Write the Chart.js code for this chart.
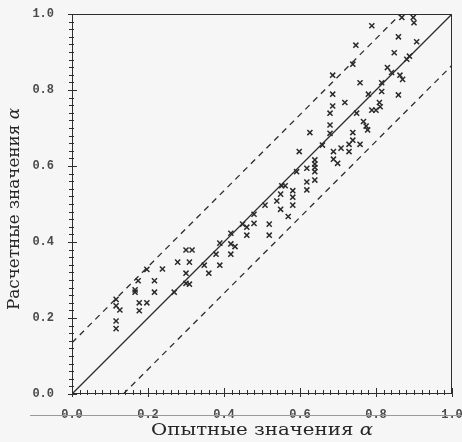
<!DOCTYPE html>
<html>
<head>
<meta charset="utf-8">
<script src="https://cdn.jsdelivr.net/npm/chart.js@4/dist/chart.umd.min.js"></script>
<style>
  html, body { margin: 0; padding: 0; background: #f6f6f6; }
  #wrap { width: 462px; height: 442px; }
</style>
</head>
<body>
<div id="wrap"><canvas id="chart" width="462" height="442"></canvas></div>
<script>
// опытные (x) и расчетные (y) значения alpha
const experimental = [
  0.116, 0.116, 0.177, 0.126, 0.116, 0.177, 0.197, 0.116, 0.166, 0.166,
  0.217, 0.269, 0.300, 0.309, 0.174, 0.217, 0.300, 0.360, 0.197, 0.238,
  0.348, 0.389, 0.278, 0.309, 0.379, 0.418, 0.300, 0.316, 0.429, 0.418,
  0.389, 0.460, 0.519, 0.418, 0.460, 0.449, 0.479, 0.519, 0.569, 0.479,
  0.549, 0.508, 0.581, 0.539, 0.581, 0.549, 0.581, 0.618, 0.552, 0.561,
  0.618, 0.639, 0.591, 0.639, 0.618, 0.639, 0.639, 0.639, 0.699, 0.688,
  0.598, 0.688, 0.729, 0.708, 0.659, 0.729, 0.758, 0.739, 0.679, 0.739,
  0.626, 0.778, 0.774, 0.679, 0.767, 0.679, 0.749, 0.789, 0.800, 0.686,
  0.811, 0.718, 0.809, 0.859, 0.686, 0.780, 0.815, 0.758, 0.815, 0.870,
  0.863, 0.686, 0.841, 0.830, 0.739, 0.881, 0.888, 0.848, 0.747, 0.907,
  0.859, 0.789, 0.900, 0.868, 0.898
];
const calculated = [
  0.172, 0.192, 0.219, 0.221, 0.232, 0.240, 0.240, 0.249, 0.268, 0.274,
  0.268, 0.268, 0.291, 0.289, 0.298, 0.298, 0.318, 0.318, 0.328, 0.329,
  0.339, 0.339, 0.347, 0.347, 0.368, 0.368, 0.379, 0.379, 0.388, 0.395,
  0.397, 0.418, 0.418, 0.423, 0.439, 0.447, 0.449, 0.447, 0.467, 0.473,
  0.486, 0.497, 0.497, 0.508, 0.518, 0.526, 0.535, 0.537, 0.548, 0.548,
  0.558, 0.563, 0.585, 0.585, 0.594, 0.596, 0.605, 0.616, 0.607, 0.618,
  0.638, 0.638, 0.638, 0.647, 0.655, 0.657, 0.657, 0.668, 0.686, 0.688,
  0.688, 0.695, 0.705, 0.708, 0.717, 0.739, 0.739, 0.747, 0.747, 0.758,
  0.756, 0.767, 0.767, 0.787, 0.789, 0.789, 0.796, 0.819, 0.819, 0.828,
  0.839, 0.839, 0.846, 0.859, 0.868, 0.881, 0.889, 0.898, 0.918, 0.927,
  0.940, 0.969, 0.977, 0.991, 0.991
];

// линия y = x и границы полосы
const diagX = [0, 1];
const diagY = [0, 1];
const upperX = [0, 0.865];
const upperY = [0.135, 1];
const lowerX = [0.135, 1];
const lowerY = [0, 0.865];

const tickValues = [0, 0.2, 0.4, 0.6, 0.8, 1.0];
const xTitle = "Опытные значения ";
const yTitle = "Расчетные значения ";
const alphaSym = "α";

function toPoints(xs, ys) {
  return xs.map((x, i) => ({ x: x, y: ys[i] }));
}

const INK = "#2e2e2e";

const background = {
  id: "background",
  beforeDraw(chart) {
    const ctx = chart.ctx;
    ctx.save();
    ctx.fillStyle = "#f6f6f6";
    ctx.fillRect(0, 0, chart.width, chart.height);
    ctx.restore();
  },
};

const frameAndTicks = {
  id: "frameAndTicks",
  afterDraw(chart) {
    const { ctx, chartArea: a, scales } = chart;
    ctx.save();
    ctx.strokeStyle = INK;
    ctx.lineWidth = 1;
    ctx.strokeRect(a.left + 0.5, a.top + 0.5, a.right - a.left - 1, a.bottom - a.top - 1);

    ctx.beginPath();
    for (let i = 0; i <= 50; i++) {
      const v = i / 50;
      const major = i % 10 === 0;
      const px = Math.round(scales.x.getPixelForValue(v)) + 0.5;
      ctx.moveTo(px, a.bottom + (major ? 3 : 1));
      ctx.lineTo(px, a.bottom - (major ? 6 : 4));
      const py = Math.round(scales.y.getPixelForValue(v)) + 0.5;
      ctx.moveTo(a.left - (major ? 4 : 3), py);
      ctx.lineTo(a.left + (major ? 5 : 2), py);
    }
    ctx.stroke();

    // строка под подписями делений (как на скане)
    ctx.strokeStyle = "#9a9a9a";
    ctx.beginPath();
    ctx.moveTo(30, 415.5);
    ctx.lineTo(chart.width, 415.5);
    ctx.stroke();
    ctx.restore();
  },
};

// подписи осей: обычный текст + курсивная alpha, растянутые до ширины
function drawTitle(ctx, text, cx, cy, width) {
  const regular = "17px 'DejaVu Serif', serif";
  const italic = "italic 17px 'DejaVu Serif', serif";
  ctx.font = regular;
  const w1 = ctx.measureText(text).width;
  ctx.font = italic;
  const w2 = ctx.measureText(alphaSym).width;
  const k = width / (w1 + w2);
  ctx.save();
  ctx.translate(cx, cy);
  ctx.scale(k, 1);
  const start = -(w1 + w2) / 2;
  ctx.textBaseline = "middle";
  ctx.textAlign = "left";
  ctx.font = regular;
  ctx.fillText(text, start, 0);
  ctx.font = italic;
  ctx.fillText(alphaSym, start + w1, 0);
  ctx.restore();
}

const axisTitles = {
  id: "axisTitles",
  afterDraw(chart) {
    const { ctx } = chart;
    ctx.save();
    ctx.fillStyle = "#262626";
    drawTitle(ctx, xTitle, 262, 431, 222);
    ctx.translate(15, 209);
    ctx.rotate(-Math.PI / 2);
    drawTitle(ctx, yTitle, 0, 0, 202);
    ctx.restore();
  },
};

const tickFont = { family: "'Liberation Mono', monospace", size: 12, weight: "bold" };

new Chart(document.getElementById("chart"), {
  type: "scatter",
  data: {
    datasets: [
      {
        label: "points",
        data: toPoints(experimental, calculated),
        pointStyle: "crossRot",
        pointRadius: 3.6,
        borderColor: "#2a2a2a",
        borderWidth: 1.5,
        order: 0,
      },
      {
        type: "line",
        label: "y = x",
        data: toPoints(diagX, diagY),
        borderColor: INK,
        borderWidth: 1.3,
        pointRadius: 0,
        fill: false,
        order: 1,
      },
      {
        type: "line",
        label: "upper",
        data: toPoints(upperX, upperY),
        borderColor: INK,
        borderWidth: 1.3,
        borderDash: [6, 5],
        pointRadius: 0,
        fill: false,
        order: 1,
      },
      {
        type: "line",
        label: "lower",
        data: toPoints(lowerX, lowerY),
        borderColor: INK,
        borderWidth: 1.3,
        borderDash: [6, 5],
        pointRadius: 0,
        fill: false,
        order: 1,
      },
    ],
  },
  options: {
    responsive: false,
    animation: false,
    layout: { padding: { left: 0, right: 10, top: 14, bottom: 0 } },
    plugins: {
      legend: { display: false },
      tooltip: { enabled: false },
    },
    scales: {
      x: {
        type: "linear",
        min: 0,
        max: 1,
        afterBuildTicks(scale) {
          scale.ticks = tickValues.map((v) => ({ value: v }));
        },
        afterFit(scale) {
          scale.height = 48;
          scale.paddingLeft = 0;
          scale.paddingRight = 0;
        },
        grid: { display: false },
        border: { display: false },
        ticks: {
          color: "#4a4a4a",
          font: tickFont,
          padding: 6,
          maxRotation: 0,
          callback: (v) => Number(v).toFixed(1),
        },
      },
      y: {
        type: "linear",
        min: 0,
        max: 1,
        afterBuildTicks(scale) {
          scale.ticks = tickValues.map((v) => ({ value: v }));
        },
        afterFit(scale) {
          scale.width = 72;
          scale.paddingTop = 0;
          scale.paddingBottom = 0;
        },
        grid: { display: false },
        border: { display: false },
        ticks: {
          color: "#4a4a4a",
          font: tickFont,
          padding: 10,
          callback: (v) => Number(v).toFixed(1),
        },
      },
    },
  },
  plugins: [background, frameAndTicks, axisTitles],
});
</script>
</body>
</html>
